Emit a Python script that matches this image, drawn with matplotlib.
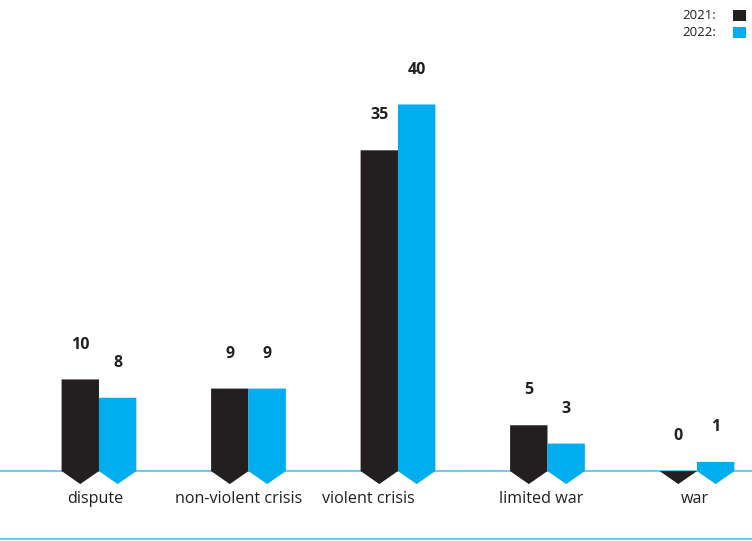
import matplotlib.pyplot as plt
import numpy as np

categories = ['dispute', 'non-violent crisis', 'violent crisis', 'limited war', 'war']
values_2021 = [10, 9, 35, 5, 0]
values_2022 = [8, 9, 40, 3, 1]
years = ['2021:', '2022:']
colors = ['#231f20', '#00aeef']
line_color = '#5cc8f0'

plt.rcParams['font.family'] = ['Open Sans', 'DejaVu Sans']

fig = plt.figure(figsize=(7.52, 5.41), dpi=100)
ax = fig.add_axes([0, 0, 1, 1])

width = 0.25
tip = 1.42  # depth of the arrow point below the baseline
# the category labels in the original sit a little left of the group centre
label_shift = [-0.025, -0.067, -0.197, -0.043, -0.013]

x = np.arange(len(categories))
for k, (vals, col) in enumerate([(values_2021, colors[0]), (values_2022, colors[1])]):
    for i, v in enumerate(vals):
        xc = x[i] + (k - 0.5) * width
        x0, x1 = xc - width / 2, xc + width / 2
        ax.fill([x0, x1, x1, xc, x0], [v, v, 0, -tip, 0], color=col, lw=0, zorder=3)
        ax.text(xc, v + 3.8, str(v), ha='center', va='center',
                fontsize=11.5, fontweight='bold', color='#231f20')

# baseline and bottom rule
ax.axhline(0, color=line_color, lw=1.3, zorder=2)
ax.axhline(-7.4, color=line_color, lw=1.3, zorder=2)

for i, c in enumerate(categories):
    ax.text(x[i] + label_shift[i], -3.1, c, ha='center', va='center',
            fontsize=11.6, color='#231f20')

# legend, top right
for k, (lab, col) in enumerate(zip(years, colors)):
    yy = 49.7 - k * 1.9
    ax.text(4.13, yy, lab, ha='right', va='center', fontsize=9.5, color='#231f20')
    ax.add_patch(plt.Rectangle((4.24, yy - 0.6), 0.09, 1.2, color=col, lw=0))

ax.set_xlim(-0.662, 4.368)
ax.set_ylim(-7.63, 51.4)
ax.axis('off')

fig.savefig('out.png', dpi=100)
